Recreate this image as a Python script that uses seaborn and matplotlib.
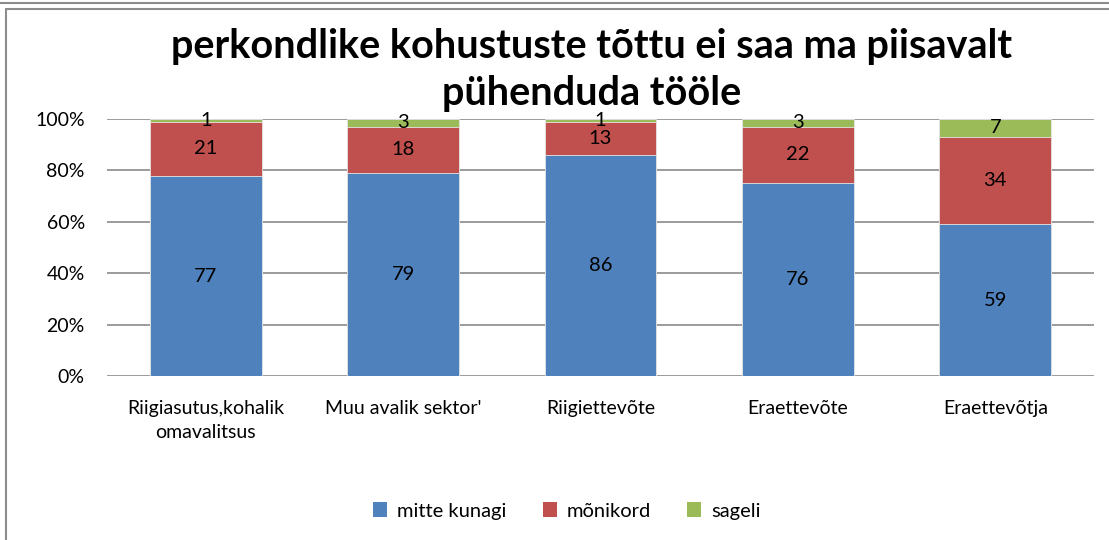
import matplotlib
matplotlib.use("Agg")
import matplotlib.pyplot as plt
from matplotlib.lines import Line2D
from matplotlib.patches import Patch
import numpy as np
import pandas as pd
import seaborn as sns

categories = ["Riigiasutus,kohalik\nomavalitsus", "Muu avalik sektor'", "Riigiettevõte",
              "Eraettevõte", "Eraettevõtja"]
series_names = ["mitte kunagi", "mõnikord", "sageli"]
mitte_kunagi = [77, 79, 86, 76, 59]
monikord = [21, 18, 13, 22, 34]
sageli = [1, 3, 1, 3, 7]
y_ticks = [0, 20, 40, 60, 80, 100]
title = "perkondlike kohustuste tõttu ei saa ma piisavalt\npühenduda tööle"

colors = ["#4F81BD", "#C0504D", "#9BBB59"]

sns.set_theme(style="white")
plt.rcParams["font.family"] = ["Lato", "DejaVu Sans"]
plt.rcParams["text.color"] = "black"
plt.rcParams["xtick.color"] = "black"
plt.rcParams["ytick.color"] = "black"
plt.rcParams["axes.labelcolor"] = "black"

raw = np.array([mitte_kunagi, monikord, sageli], dtype=float)
pct = raw / raw.sum(axis=0) * 100
cum = np.cumsum(pct, axis=0)

df = pd.DataFrame({"cat": categories})
for i, name in enumerate(series_names):
    df[name] = cum[i]

fig = plt.figure(figsize=(11.09, 5.40), dpi=100)
W, H = 1109, 540
ax = fig.add_axes([107 / W, 1 - 376 / H, (1094 - 107) / W, (376 - 119) / H])

for i in reversed(range(3)):
    sns.barplot(data=df, x="cat", y=series_names[i], color=colors[i], width=0.567,
                saturation=1, ax=ax, edgecolor="#e6e6e6", linewidth=0.6, zorder=3)

ax.set_ylim(0, 100)
ax.set_xlim(-0.5, len(categories) - 0.5)
ax.set_yticks(y_ticks)
ax.set_yticklabels([f"{t}%" for t in y_ticks], fontsize=14)
ax.tick_params(axis="x", labelsize=14, length=0, pad=17, colors="black")
ax.tick_params(axis="y", length=0, pad=16, colors="black")
for lbl in ax.get_xticklabels():
    lbl.set_linespacing(1.55)
ax.set_xlabel("")
ax.set_ylabel("")
ax.yaxis.grid(True, color="#8a8a8a", linewidth=1.2, zorder=0)
ax.set_axisbelow(True)
for s in ax.spines.values():
    s.set_visible(False)

# segment labels
bottoms = np.vstack([np.zeros(len(categories)), cum[:-1]])
for i in range(3):
    for j in range(len(categories)):
        ax.text(j, bottoms[i, j] + pct[i, j] / 2, f"{int(raw[i, j])}", ha="center",
                va="center", fontsize=14.5, color="black", zorder=5)

fig.text(592 / W, 1 - 70 / H, title, ha="center", va="center", fontsize=28.5,
         fontweight="bold", linespacing=1.35, color="black")

handles = [Patch(facecolor=c, edgecolor="none") for c in colors]
leg = fig.legend(handles, series_names, loc="center", bbox_to_anchor=(567 / W, 1 - 511 / H),
                 ncol=3, frameon=False, fontsize=14.5, handlelength=0.7, handleheight=0.7,
                 handletextpad=0.5, columnspacing=1.8)
for t in leg.get_texts():
    t.set_color("black")

# chart frame lines
fig.add_artist(Line2D([0, 1], [1 - 3 / H, 1 - 3 / H], transform=fig.transFigure,
                      color="#8c8c8c", linewidth=1.5))
fig.add_artist(Line2D([6 / W, 1], [1 - 9 / H, 1 - 9 / H], transform=fig.transFigure,
                      color="#8c8c8c", linewidth=1.5))
fig.add_artist(Line2D([6 / W, 6 / W], [0, 1 - 9 / H], transform=fig.transFigure,
                      color="#8c8c8c", linewidth=1.5))

fig.savefig("out.png", dpi=100)
